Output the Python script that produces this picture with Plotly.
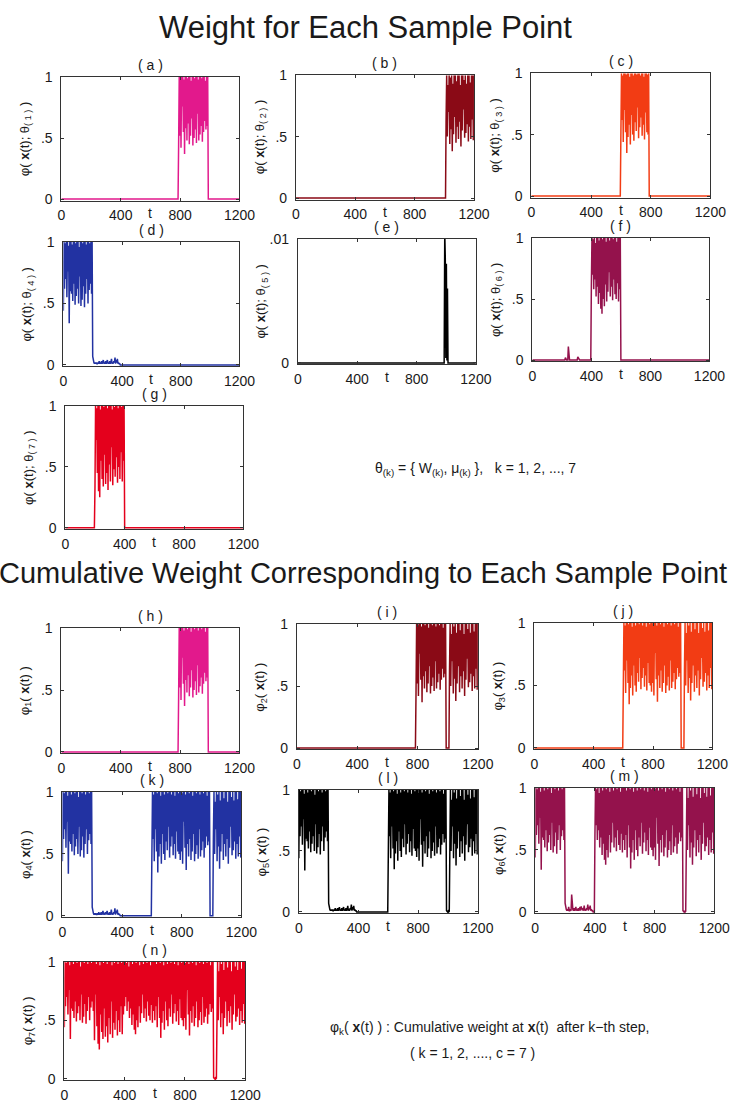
import numpy as np
import plotly.graph_objects as go

# ---------------- data ----------------
# Sample weights of the points belonging to each cluster's block of samples
# (cluster k -> values of phi(x(t); theta_(k)) over its own block of t)
seg1_vals = [0.45, 1.00, 0.52, 0.99, 0.42, 1.00, 0.76, 1.00, 0.55, 0.98, 0.37, 1.00, 0.58, 1.00, 0.48, 0.99,
             0.62, 1.00, 0.45, 1.00, 0.52, 0.97, 0.66, 1.00, 0.44, 1.00, 0.50, 0.99, 0.57, 1.00, 0.46, 1.00,
             0.70, 0.98, 0.48, 1.00, 0.53, 1.00, 0.60, 0.99, 0.47, 1.00, 0.55, 1.00, 0.64, 0.97, 0.57, 1.00,
             0.60, 1.00]
seg2_vals = [0.62, 1.00, 0.50, 0.92, 0.70, 1.00, 0.44, 0.98, 0.56, 1.00, 0.38, 0.93, 0.52, 1.00, 0.66, 1.00,
             0.45, 0.95, 0.58, 1.00, 0.48, 1.00, 0.62, 0.92, 0.42, 1.00, 0.55, 1.00, 0.72, 0.96, 0.49, 1.00,
             0.53, 0.93, 0.60, 1.00, 0.46, 1.00, 0.58, 0.94, 0.48, 1.00, 0.64, 1.00, 0.47, 1.00]
seg3_vals = [0.50, 1.00, 0.62, 0.98, 0.44, 1.00, 0.70, 1.00, 0.52, 0.99, 0.35, 1.00, 0.48, 1.00, 0.58, 0.97,
             0.42, 1.00, 0.66, 1.00, 0.50, 0.98, 0.45, 1.00, 0.60, 1.00, 0.53, 0.99, 0.72, 1.00, 0.47, 1.00,
             0.56, 0.98, 0.64, 1.00, 0.49, 1.00, 0.58, 0.97, 0.46, 1.00, 0.68, 1.00, 0.52, 0.99, 0.50, 1.00]
seg4_vals = [0.44, 1.00, 0.62, 0.99, 0.70, 1.00, 0.55, 1.00, 0.76, 0.97, 0.34, 1.00, 0.60, 1.00, 0.58, 0.98,
             0.52, 1.00, 0.66, 1.00, 0.49, 0.99, 0.56, 1.00, 0.62, 1.00, 0.50, 0.96, 0.72, 1.00, 0.48, 1.00,
             0.53, 0.99, 0.64, 1.00, 0.47, 1.00, 0.58, 0.98, 0.70, 1.00, 0.50, 1.00, 0.61, 0.99, 0.66, 1.00,
             0.58, 1.00]
seg5_vals = [0.0105, 0.0085, 0.0004, 0.0080, 0.0002, 0.0060]
seg6_vals = [0.62, 1.00, 0.70, 0.99, 0.58, 1.00, 0.66, 0.96, 0.52, 1.00, 0.60, 1.00, 0.46, 0.98, 0.55, 1.00,
             0.42, 1.00, 0.38, 0.99, 0.50, 1.00, 0.44, 1.00, 0.62, 0.97, 0.48, 1.00, 0.56, 1.00, 0.72, 0.98,
             0.52, 1.00, 0.60, 1.00, 0.49, 0.99, 0.66, 1.00, 0.54, 1.00, 0.50, 0.97, 0.63, 1.00, 0.48, 1.00,
             0.58, 1.00]
seg7_vals = [0.33, 1.00, 0.72, 0.98, 0.45, 1.00, 0.30, 1.00, 0.25, 0.97, 0.55, 1.00, 0.40, 1.00, 0.34, 0.99,
             0.60, 1.00, 0.36, 1.00, 0.45, 0.98, 0.31, 1.00, 0.52, 1.00, 0.38, 1.00, 0.66, 0.97, 0.35, 1.00,
             0.48, 0.99, 0.42, 1.00, 0.58, 1.00, 0.37, 0.98, 0.50, 1.00, 0.40, 1.00, 0.62, 0.99, 0.38, 1.00,
             0.55, 1.00]
# small leftover weights of cluster 4 and cluster 6 on the block of cluster 7
tail4_on_seg7 = [0.07, 0.03, 0.02, 0.01, 0.02, 0.01, 0.02, 0.01, 0.01, 0.02, 0.01, 0.03, 0.01, 0.02, 0.01, 0.03,
                 0.01, 0.02, 0.04, 0.01, 0.02, 0.01, 0.03, 0.01, 0.02, 0.04, 0.01, 0.02, 0.01, 0.03, 0.01, 0.02,
                 0.05, 0.01, 0.02, 0.01, 0.03, 0.02, 0.06, 0.01, 0.04, 0.02, 0.05, 0.01, 0.02, 0.01, 0.01, 0.00,
                 0.00, 0.00]
tail6_on_seg7 = [0.00, 0.00, 0.00, 0.00, 0.00, 0.00, 0.02, 0.00, 0.00, 0.00, 0.00, 0.11, 0.01, 0.00, 0.00, 0.00,
                 0.00, 0.00, 0.00, 0.00, 0.00, 0.00, 0.00, 0.00, 0.00, 0.00, 0.00, 0.025, 0.01, 0.00, 0.00, 0.00,
                 0.00, 0.00, 0.00, 0.00, 0.00, 0.00, 0.00, 0.00, 0.00, 0.00, 0.00, 0.00, 0.00, 0.00, 0.00, 0.00,
                 0.00, 0.00]

# blocks of samples in t order, with their t spans
seg_order = [4, 7, 6, 3, 1, 5, 2]
seg_span = {4: (0, 200), 7: (200, 400), 6: (400, 600), 3: (600, 790), 1: (790, 990), 5: (990, 1012), 2: (1012, 1200)}
seg_values = {1: seg1_vals, 2: seg2_vals, 3: seg3_vals, 4: seg4_vals, 5: seg5_vals, 6: seg6_vals, 7: seg7_vals}
tails = {4: {7: tail4_on_seg7}, 6: {7: tail6_on_seg7}}

x_ticks = [0, 400, 800, 1200]
x_ticktext = ["0", "400", "800", "1200"]
y_ticks = [0, 0.5, 1]
y_ticktext = ["0", ".5", "1"]
y_ticks_e = [0, 0.01]
y_ticktext_e = ["0", ".01"]

colors = {1: "#E2198C", 2: "#8A0A16", 3: "#F23C14", 4: "#2232A2", 5: "#000000", 6: "#94124C", 7: "#E4001C"}

# ---------------- layout constants ----------------
W, H = 741, 1106
FONT = "Liberation Sans, Arial, sans-serif"
TXT = "#1a1a1a"

# panel pixel boxes: x0, x1, ytop, ybottom
panels = [
    ("a", "ind", 1, (59, 242, 70, 195)),
    ("b", "ind", 2, (300, 483, 68, 194)),
    ("c", "ind", 3, (542, 726, 66, 192)),
    ("d", "ind", 4, (61, 242, 237, 363)),
    ("e", "ind", 5, (302, 485, 234, 361)),
    ("f", "ind", 6, (543, 725, 233, 358)),
    ("g", "ind", 7, (63, 246, 403, 528)),
    ("h", "cum", 1, (59, 242, 628, 755)),
    ("i", "cum", 2, (301, 487, 624, 751)),
    ("j", "cum", 3, (545, 728, 623, 751)),
    ("k", "cum", 4, (60, 244, 794, 921)),
    ("l", "cum", 5, (303, 487, 792, 917)),
    ("m", "cum", 6, (546, 730, 790, 917)),
    ("n", "cum", 7, (62, 248, 966, 1086)),
]


def seg_t(s):
    a, b = seg_span[s]
    n = len(seg_values[s])
    if s == 2:
        return np.linspace(a, b, n)
    return np.linspace(a, b, n, endpoint=False)


t_all = np.concatenate([seg_t(s) for s in seg_order])


def series(included):
    parts = []
    for s in seg_order:
        n = len(seg_values[s])
        if s in included:
            parts.append(np.array(seg_values[s], dtype=float))
        else:
            v = np.zeros(n)
            for c in included:
                if c in tails and s in tails[c]:
                    v = v + np.array(tails[c][s], dtype=float)
            parts.append(v)
    return np.concatenate(parts)


fig = go.Figure()
annotations = []

for i, (lab, kind, k, (x0, x1, yt, yb)) in enumerate(panels):
    n = i + 1
    xa = "x" if n == 1 else f"x{n}"
    ya = "y" if n == 1 else f"y{n}"
    included = [k] if kind == "ind" else list(range(1, k + 1))
    vals = series(included)
    fig.add_trace(go.Scatter(x=t_all, y=vals, mode="lines",
                             line=dict(color=colors[k], width=1.5),
                             xaxis=xa, yaxis=ya, showlegend=False, hoverinfo="skip"))
    is_e = (lab == "e")
    ymax = 0.01 if is_e else 1.0
    axis_common = dict(showline=True, linecolor="#333", linewidth=1, mirror="ticks",
                       ticks="inside", ticklen=3, tickcolor="#333", showgrid=False, zeroline=False,
                       tickfont=dict(family=FONT, size=14, color=TXT))
    fig.update_layout(**{
        ("xaxis" if n == 1 else f"xaxis{n}"): dict(
            domain=[x0 / W, x1 / W], anchor=ya, range=[0, 1200],
            tickvals=x_ticks, ticktext=x_ticktext, ticklabelstandoff=2, **axis_common),
        ("yaxis" if n == 1 else f"yaxis{n}"): dict(
            domain=[1 - yb / H, 1 - yt / H], anchor=xa, range=[-0.012 * ymax, ymax],
            tickvals=(y_ticks_e if is_e else y_ticks), ticktext=(y_ticktext_e if is_e else y_ticktext),
            ticklabelstandoff=5, **axis_common),
    })
    # panel label
    annotations.append(dict(text=f"( {lab} )", x=(x0 + x1) / 2 / W, y=1 - (yt - 12) / H,
                            xref="paper", yref="paper", showarrow=False,
                            font=dict(family=FONT, size=14, color=TXT), xanchor="center", yanchor="middle"))
    # x-axis letter t
    annotations.append(dict(text="t", x=600, xref=xa, y=1 - (yb + 13) / H, yref="paper", showarrow=False,
                            font=dict(family=FONT, size=14, color=TXT), xanchor="center", yanchor="middle"))
    # y title
    if kind == "ind":
        ytxt = f"φ( <b>x</b>(t); θ<sub>( {k} )</sub> )"
    else:
        ytxt = f"φ<sub>{k}</sub>( <b>x</b>(t) )"
    annotations.append(dict(text=ytxt, x=(x0 - 37) / W, y=1 - (yt + yb) / 2 / H, xref="paper", yref="paper",
                            showarrow=False, textangle=-90,
                            font=dict(family=FONT, size=13, color=TXT), xanchor="center", yanchor="middle"))

annotations += [
    dict(text="Weight for Each Sample Point", x=372 / W, y=1 - 20 / H, xref="paper", yref="paper",
         showarrow=False, font=dict(family=FONT, size=31, color=TXT), xanchor="center", yanchor="middle"),
    dict(text="Cumulative Weight Corresponding to Each Sample Point", x=369 / W, y=1 - 572 / H,
         xref="paper", yref="paper", showarrow=False, font=dict(family=FONT, size=29, color=TXT),
         xanchor="center", yanchor="middle"),
    dict(text="θ<sub>(k)</sub> = { W<sub>(k)</sub>, μ<sub>(k)</sub> },   k = 1, 2, ..., 7", x=485 / W,
         y=1 - 467 / H, xref="paper", yref="paper", showarrow=False,
         font=dict(family=FONT, size=14, color=TXT), xanchor="center", yanchor="middle"),
    dict(text="φ<sub>k</sub>( <b>x</b>(t) ) : Cumulative weight at <b>x</b>(t)  after k−th step,",
         x=499 / W, y=1 - 1033 / H, xref="paper", yref="paper", showarrow=False,
         font=dict(family=FONT, size=14, color=TXT), xanchor="center", yanchor="middle"),
    dict(text="( k = 1, 2, ...., c = 7 )", x=482 / W, y=1 - 1058 / H, xref="paper", yref="paper",
         showarrow=False, font=dict(family=FONT, size=14, color=TXT), xanchor="center", yanchor="middle"),
]

fig.update_layout(width=W, height=H, margin=dict(l=0, r=0, t=0, b=0),
                  paper_bgcolor="white", plot_bgcolor="white",
                  annotations=annotations, font=dict(family=FONT, color=TXT))

fig.write_html("out.html")
